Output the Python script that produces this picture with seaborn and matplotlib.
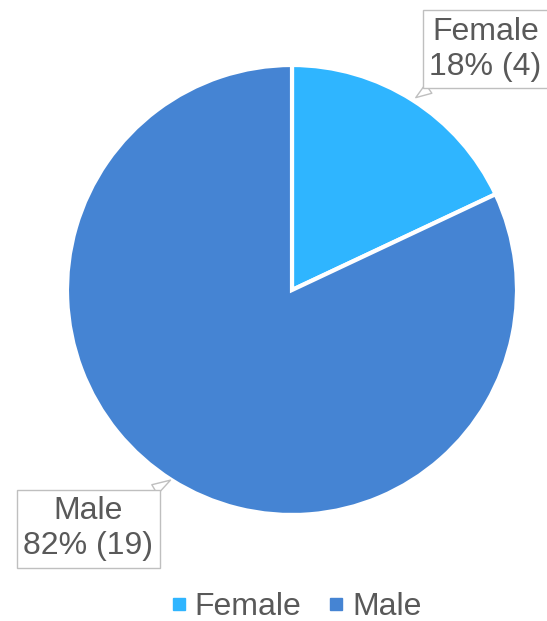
import matplotlib
matplotlib.use("Agg")
import matplotlib.pyplot as plt
from matplotlib.lines import Line2D
import seaborn as sns

categories = ["Female", "Male"]
counts = [4, 19]
percents = [18, 82]
colors = ["#2FB5FF", "#4584D3"]

sns.set_theme(style="white")
plt.rcParams['font.family'] = ['Liberation Sans', 'DejaVu Sans']
text_color = "#595959"

fig = plt.figure(figsize=(5.47, 6.21), dpi=100)
ax = fig.add_axes([67/547, 106/621, 450/547, 450/621])

wedges, _ = ax.pie(percents, colors=colors, startangle=90, counterclock=False,
                   wedgeprops=dict(edgecolor="white", linewidth=3), radius=1.0)
ax.set_xlim(-1, 1)
ax.set_ylim(-1, 1)
ax.set_aspect("equal")
ax.axis("off")

# callout labels
label_pos = [(0.86, 1.07), (-0.905, -1.062)]
targets = [(0.55, 0.855), (-0.54, -0.845)]
for cat, n, p, xy, xyt in zip(categories, counts, percents, targets, label_pos):
    ax.annotate(f"{cat}\n{p}% ({n})", xy=xy, xytext=xyt,
                ha="center", va="center", fontsize=23, color=text_color,
                linespacing=1.22, annotation_clip=False,
                bbox=dict(boxstyle="square,pad=0.2", fc="white", ec="#BFBFBF", lw=1),
                arrowprops=dict(arrowstyle="wedge,tail_width=0.35,shrink_factor=0.5",
                                fc="white", ec="#BFBFBF", lw=1,
                                shrinkA=0, shrinkB=0))

handles = [Line2D([0], [0], marker="s", linestyle="", markersize=8,
                  markerfacecolor=c, markeredgecolor=c) for c in colors]
leg = fig.legend(handles, categories, loc="center", bbox_to_anchor=(0.54, 1 - 607/621),
                 ncol=2, frameon=False, fontsize=23, handlelength=0.6,
                 handletextpad=0.2, columnspacing=0.8)
for t in leg.get_texts():
    t.set_color(text_color)

fig.savefig("out.png", dpi=100)
